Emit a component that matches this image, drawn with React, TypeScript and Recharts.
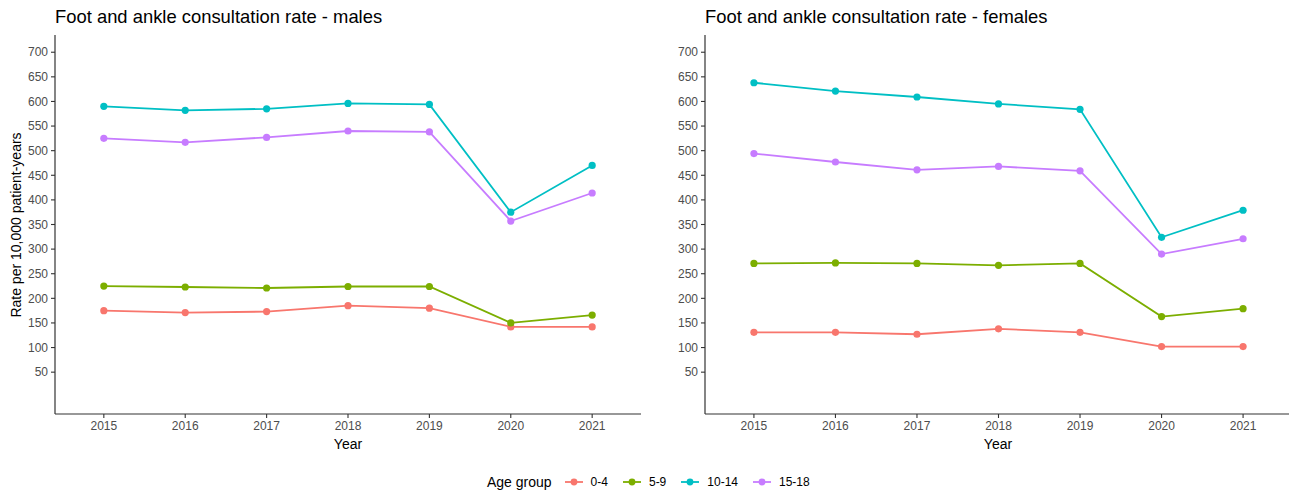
import React from "react";
import { LineChart, Line, XAxis, YAxis } from "recharts";

const years = [2015, 2016, 2017, 2018, 2019, 2020, 2021];
const ageGroups = ["0-4", "5-9", "10-14", "15-18"];
const groupColors = ["#F8766D", "#7CAE00", "#00BFC4", "#C77CFF"];
const yTicks = [50, 100, 150, 200, 250, 300, 350, 400, 450, 500, 550, 600, 650, 700];

const males0to4 = [175, 171, 173, 185, 180, 142, 142];
const males5to9 = [225, 223, 221, 224, 224, 150, 166];
const males10to14 = [590, 582, 585, 596, 594, 375, 470];
const males15to18 = [525, 517, 527, 540, 538, 357, 414];

const females0to4 = [131, 131, 127, 138, 131, 102, 102];
const females5to9 = [271, 272, 271, 267, 271, 163, 179];
const females10to14 = [638, 621, 609, 595, 584, 324, 379];
const females15to18 = [494, 477, 461, 468, 459, 290, 321];

const buildRows = (series: number[][]) =>
  years.map((year, i) => {
    const row: Record<string, number> = { year };
    ageGroups.forEach((g, k) => {
      row[g] = series[k][i];
    });
    return row;
  });

const maleRows = buildRows([males0to4, males5to9, males10to14, males15to18]);
const femaleRows = buildRows([females0to4, females5to9, females10to14, females15to18]);

const FONT = "'Liberation Sans', Arial, sans-serif";
const AXIS = "#333333";
const TICK_TEXT = "#4D4D4D";

function Panel({ rows, width }: { rows: Record<string, number>[]; width: number }) {
  return (
    <LineChart
      width={width}
      height={460}
      data={rows}
      margin={{ top: 35, right: 0, bottom: 0, left: 0 }}
      style={{ fontFamily: FONT }}
    >
      <XAxis
        type="number"
        dataKey="year"
        domain={[2014.4, 2021.6]}
        ticks={years}
        allowDataOverflow
        height={46}
        tickSize={4}
        tickMargin={3}
        tick={{ fill: TICK_TEXT, fontSize: 12 }}
        axisLine={{ stroke: AXIS, strokeWidth: 1.2 }}
        tickLine={{ stroke: AXIS, strokeWidth: 1.1 }}
      />
      <YAxis
        type="number"
        domain={[-35, 735]}
        ticks={yTicks}
        allowDataOverflow
        width={55}
        tickSize={4}
        tickMargin={3}
        tick={{ fill: TICK_TEXT, fontSize: 12 }}
        axisLine={{ stroke: AXIS, strokeWidth: 1.2 }}
        tickLine={{ stroke: AXIS, strokeWidth: 1.1 }}
      />
      {ageGroups.map((g, k) => (
        <Line
          key={g}
          type="linear"
          dataKey={g}
          stroke={groupColors[k]}
          strokeWidth={1.8}
          dot={{ r: 3.6, fill: groupColors[k], stroke: groupColors[k], strokeWidth: 0 }}
          activeDot={false}
          isAnimationActive={false}
        />
      ))}
    </LineChart>
  );
}

const abs = (left: number, top: number): React.CSSProperties => ({
  position: "absolute",
  left,
  top,
  fontFamily: FONT,
  whiteSpace: "nowrap",
  lineHeight: 1,
});

export default function App() {
  return (
    <div
      style={{
        position: "absolute",
        left: 0,
        top: 0,
        width: 1289,
        height: 492,
        overflow: "hidden",
        background: "#ffffff",
      }}
    >
      <div style={{ position: "absolute", left: 0, top: 0 }}>
        <Panel rows={maleRows} width={641} />
      </div>
      <div style={{ position: "absolute", left: 650, top: 0 }}>
        <Panel rows={femaleRows} width={642} />
      </div>

      <div style={{ ...abs(55, 8), fontSize: 18.4, color: "#000" }}>
        Foot and ankle consultation rate - males
      </div>
      <div style={{ ...abs(705, 8), fontSize: 18.4, color: "#000" }}>
        Foot and ankle consultation rate - females
      </div>

      <div
        style={{
          ...abs(16, 225),
          fontSize: 14,
          color: "#000",
          transform: "translate(-50%, -50%) rotate(-90deg)",
        }}
      >
        Rate per 10,000 patient-years
      </div>

      <div style={{ ...abs(348, 444), fontSize: 14, color: "#000", transform: "translate(-50%, -50%)" }}>
        Year
      </div>
      <div style={{ ...abs(998, 444), fontSize: 14, color: "#000", transform: "translate(-50%, -50%)" }}>
        Year
      </div>

      <div
        style={{
          ...abs(487, 482),
          transform: "translateY(-50%)",
          display: "flex",
          alignItems: "center",
        }}
      >
        <span style={{ fontSize: 14, color: "#000", marginRight: 12 }}>Age group</span>
        {ageGroups.map((g, k) => (
          <span key={g} style={{ display: "flex", alignItems: "center", marginRight: 14 }}>
            <svg width={20} height={10} style={{ marginRight: 7 }}>
              <line x1={1} y1={5} x2={19} y2={5} stroke={groupColors[k]} strokeWidth={1.8} />
              <circle cx={10} cy={5} r={3.4} fill={groupColors[k]} />
            </svg>
            <span style={{ fontSize: 12, color: "#000" }}>{g}</span>
          </span>
        ))}
      </div>
    </div>
  );
}
